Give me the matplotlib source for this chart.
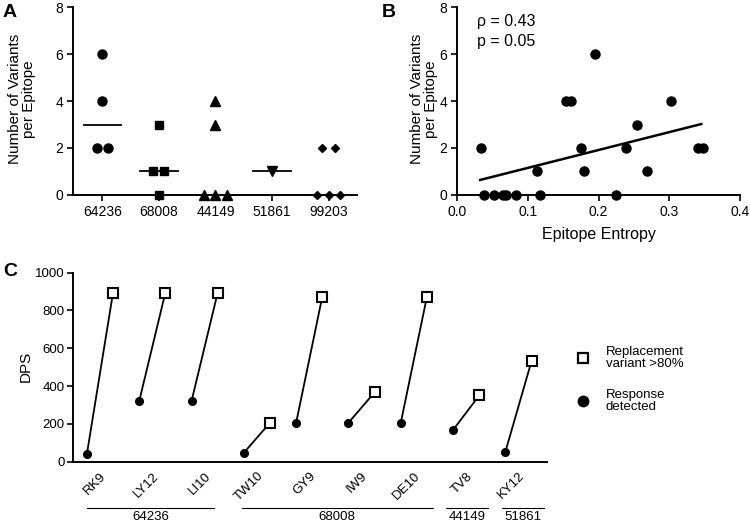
import numpy as np
import matplotlib
matplotlib.use("Agg")
import matplotlib.pyplot as plt

plt.rcParams['font.family'] = ['Liberation Sans', 'DejaVu Sans']
plt.rcParams['axes.linewidth'] = 1.4
plt.rcParams['xtick.major.width'] = 1.2
plt.rcParams['ytick.major.width'] = 1.2
plt.rcParams['xtick.major.size'] = 4
plt.rcParams['ytick.major.size'] = 4

# Panel A: variants per epitope for each subject
subjects = ['64236', '68008', '44149', '51861', '99203']
subject_markers = ['o', 's', '^', 'v', 'D']
variants = [[6, 4, 2, 2], [3, 1, 1, 0], [4, 3, 0, 0, 0], [1], [2, 2, 0, 0, 0]]
jitter = [[0, 0, -0.1, 0.1], [0, -0.1, 0.1, 0], [0, 0, -0.2, 0, 0.2], [0],
          [-0.11, 0.11, -0.2, 0, 0.2]]
medians = [3, 1, 0, 1, 0]

# Panel B: entropy vs variants
entropy = [0.034, 0.038, 0.053, 0.065, 0.069, 0.083, 0.113, 0.117, 0.154, 0.161,
           0.176, 0.179, 0.195, 0.225, 0.239, 0.254, 0.268, 0.302, 0.340, 0.347]
n_variants = [2, 0, 0, 0, 0, 0, 1, 0, 4, 4, 2, 1, 6, 0, 2, 3, 1, 4, 2, 2]
fit_x = [0.033, 0.345]
fit_y = [0.64, 3.02]

# Panel C: DPS of response and replacement variant
epitopes = ['RK9', 'LY12', 'LI10', 'TW10', 'GY9', 'IW9', 'DE10', 'TV8', 'KY12']
dps_response = [40, 320, 320, 47, 206, 206, 206, 168, 53]
dps_replacement = [894, 894, 894, 206, 873, 367, 873, 351, 533]
groups = ['64236', '68008', '44149', '51861']
group_span = [(-0.25, 2.18), (2.71, 6.36), (6.62, 7.42), (7.69, 8.49)]

fig = plt.figure(figsize=(7.5, 5.25), dpi=100)

# ---- A
axA = fig.add_axes([0.097, 0.6286, 0.379, 0.358])
for i, (vals, offs) in enumerate(zip(variants, jitter)):
    xs = i + np.array(offs)
    m = subject_markers[i]
    ms = {'o': 6.5, 's': 6, '^': 6.5, 'v': 6.5, 'D': 4.5}[m]
    axA.plot(xs, vals, linestyle='none', marker=m, color='black',
             markersize=ms, clip_on=False, zorder=3)
    axA.plot([i - 0.33, i + 0.33], [medians[i], medians[i]], color='black', lw=1.3)
axA.set_xlim(-0.52, 4.5)
axA.set_ylim(0, 8)
axA.set_yticks([0, 2, 4, 6, 8])
axA.set_xticks(range(len(subjects)))
axA.set_xticklabels(subjects)
axA.tick_params(labelsize=10, pad=3)
axA.set_ylabel('Number of Variants\nper Epitope', fontsize=11, linespacing=1.0)
axA.yaxis.set_label_coords(-0.13, 0.51)
for s in ['top', 'right']:
    axA.spines[s].set_visible(False)

# ---- B
axB = fig.add_axes([0.609, 0.6286, 0.378, 0.358])
axB.plot(entropy, n_variants, linestyle='none', marker='o', color='black',
         markersize=6.5, clip_on=False, zorder=3)
axB.plot(fit_x, fit_y, color='black', lw=1.8)
axB.set_xlim(0, 0.4)
axB.set_ylim(0, 8)
axB.set_yticks([0, 2, 4, 6, 8])
axB.set_xticks([0.0, 0.1, 0.2, 0.3, 0.4])
axB.set_xticklabels(['0.0', '0.1', '0.2', '0.3', '0.4'])
axB.tick_params(labelsize=10, pad=3)
axB.set_xlabel('Epitope Entropy', fontsize=11.5, labelpad=6)
axB.set_ylabel('Number of Variants\nper Epitope', fontsize=11, linespacing=1.0)
axB.yaxis.set_label_coords(-0.065, 0.51)
axB.text(0.028, 7.37, 'ρ = 0.43', fontsize=11.5, va='center')
axB.text(0.028, 6.52, 'p = 0.05', fontsize=11.5, va='center')
for s in ['top', 'right']:
    axB.spines[s].set_visible(False)

# ---- C
axC = fig.add_axes([0.097, 0.1206, 0.632, 0.36])
for i in range(len(epitopes)):
    axC.plot([i - 0.25, i + 0.25], [dps_response[i], dps_replacement[i]], color='black', lw=1.3)
    axC.plot(i - 0.25, dps_response[i], marker='o', color='black', markersize=5.5, linestyle='none')
    axC.plot(i + 0.25, dps_replacement[i], marker='s', markerfacecolor='white',
             markeredgecolor='black', markeredgewidth=1.5, markersize=6.5, linestyle='none', zorder=3)
axC.set_xlim(-0.52, 8.54)
axC.set_ylim(0, 1000)
axC.set_yticks([0, 200, 400, 600, 800, 1000])
axC.set_xticks(range(len(epitopes)))
axC.set_xticklabels(epitopes, rotation=45, ha='right', rotation_mode='anchor', fontsize=9.5)
axC.tick_params(axis='x', length=0, pad=6)
axC.tick_params(axis='y', labelsize=9.5, pad=2)
axC.set_ylabel('DPS', fontsize=11)
axC.yaxis.set_label_coords(-0.084, 0.503)
for s in ['top', 'right']:
    axC.spines[s].set_visible(False)

trans = axC.get_xaxis_transform()
for name, (x0, x1) in zip(groups, group_span):
    axC.plot([x0, x1], [-0.243, -0.243], color='black', lw=0.8, transform=trans, clip_on=False)
    axC.text((x0 + x1) / 2, -0.262, name, transform=trans, ha='center', va='top', fontsize=9.5)

# legend
fig.add_artist(plt.Line2D([0.7773], [1 - 358 / 525], marker='s', markerfacecolor='white',
                          markeredgecolor='black', markeredgewidth=1.6, markersize=7.5,
                          transform=fig.transFigure))
fig.add_artist(plt.Line2D([0.7773], [1 - 401 / 525], marker='o', color='black', markersize=7.5,
                          transform=fig.transFigure))
fig.text(0.808, 1 - 358 / 525, 'Replacement\nvariant >80%', fontsize=9.5, va='center', linespacing=1.05)
fig.text(0.808, 1 - 401 / 525, 'Response\ndetected', fontsize=9.5, va='center', linespacing=1.05)

# panel letters
fig.text(0.003, 0.993, 'A', fontsize=14, fontweight='bold', va='top')
fig.text(0.509, 0.993, 'B', fontsize=14, fontweight='bold', va='top')
fig.text(0.005, 0.5, 'C', fontsize=14, fontweight='bold', va='top')

fig.savefig('out.png', dpi=100)
